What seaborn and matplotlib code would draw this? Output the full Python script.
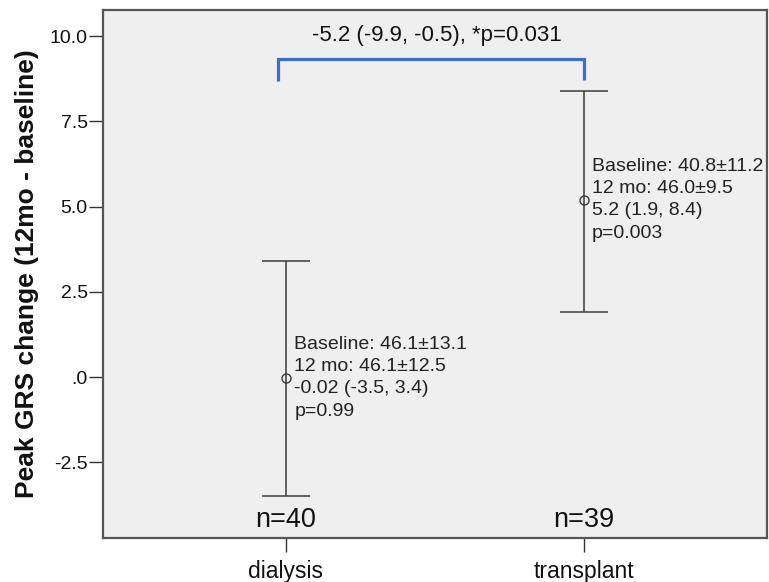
import numpy as np
import pandas as pd
import seaborn as sns
import matplotlib.pyplot as plt
from matplotlib.ticker import FuncFormatter

# data
groups = ['dialysis', 'transplant']
mean_change = [-0.02, 5.2]
ci_low = [-3.5, 1.9]
ci_high = [3.4, 8.4]
n_labels = ['n=40', 'n=39']
group_notes = [
    "Baseline: 46.1\u00b113.1\n12 mo: 46.1\u00b112.5\n-0.02 (-3.5, 3.4)\np=0.99",
    "Baseline: 40.8\u00b111.2\n12 mo: 46.0\u00b19.5\n5.2 (1.9, 8.4)\np=0.003",
]
diff_label = "-5.2 (-9.9, -0.5), *p=0.031"

df = pd.DataFrame({'group': groups, 'change': mean_change})

sns.set_style('ticks')
plt.rcParams['font.family'] = ['Liberation Sans', 'DejaVu Sans']

fig = plt.figure(figsize=(7.69, 5.82), dpi=100)
ax = fig.add_axes([0.134, 0.0756, 0.863, 0.907])
ax.set_facecolor('#efefef')

line_col = '#3a3a3a'

# mean markers
sns.pointplot(data=df, x='group', y='change', order=groups, errorbar=None,
              linestyle='none', marker='o', color=line_col,
              markerfacecolor='none', markersize=6.5, markeredgewidth=1.0,
              ax=ax)

# 95% CI error bars
xpos = np.arange(len(groups))
yerr = [np.array(mean_change) - np.array(ci_low),
        np.array(ci_high) - np.array(mean_change)]
ax.errorbar(xpos, mean_change, yerr=yerr, fmt='none', ecolor=line_col,
            elinewidth=1.1, capsize=17, capthick=1.1, zorder=1)

# text next to each group
for x, y, note in zip(xpos, mean_change, group_notes):
    ax.annotate(note, xy=(x, y), xytext=(6, 0), textcoords='offset points',
                ha='left', va='center', fontsize=14, linespacing=1.42,
                color='#222222', annotation_clip=False)

# n labels
for x, lab in zip(xpos, n_labels):
    ax.text(x, -4.2, lab, ha='center', va='center', fontsize=19.5, color='#111111')

# comparison bracket
ax.plot([-0.027, -0.027, 1.0, 1.0], [8.68, 9.33, 9.33, 8.7],
        color='#3a6fcf', lw=2.3, solid_capstyle='butt', solid_joinstyle='miter')
ax.text(0.507, 10.02, diff_label, ha='center', va='center', fontsize=16,
        color='#111111')

ax.set_xlim(-0.614, 1.614)
ax.set_ylim(-4.72, 10.76)
ax.set_yticks([-2.5, 0, 2.5, 5.0, 7.5, 10.0])


def spss_fmt(v, pos):
    s = f"{v:.1f}"
    if s == '0.0' or s == '-0.0':
        return '.0'
    return s


ax.yaxis.set_major_formatter(FuncFormatter(spss_fmt))
ax.tick_params(axis='both', direction='out', length=10, width=1.0,
               color='#333333', labelcolor='#111111')
ax.tick_params(axis='y', labelsize=14, pad=1)
ax.tick_params(axis='x', labelsize=16.5, pad=6)

ax.set_xlabel('')
ax.set_ylabel('Peak GRS change (12mo - baseline)', fontsize=19,
              fontweight='bold', color='#111111')
ax.yaxis.set_label_coords(-0.096, 0.5)

for sp in ax.spines.values():
    sp.set_visible(True)
    sp.set_color('#555555')
    sp.set_linewidth(1.6)

fig.savefig('out.png', dpi=100, facecolor='white')
